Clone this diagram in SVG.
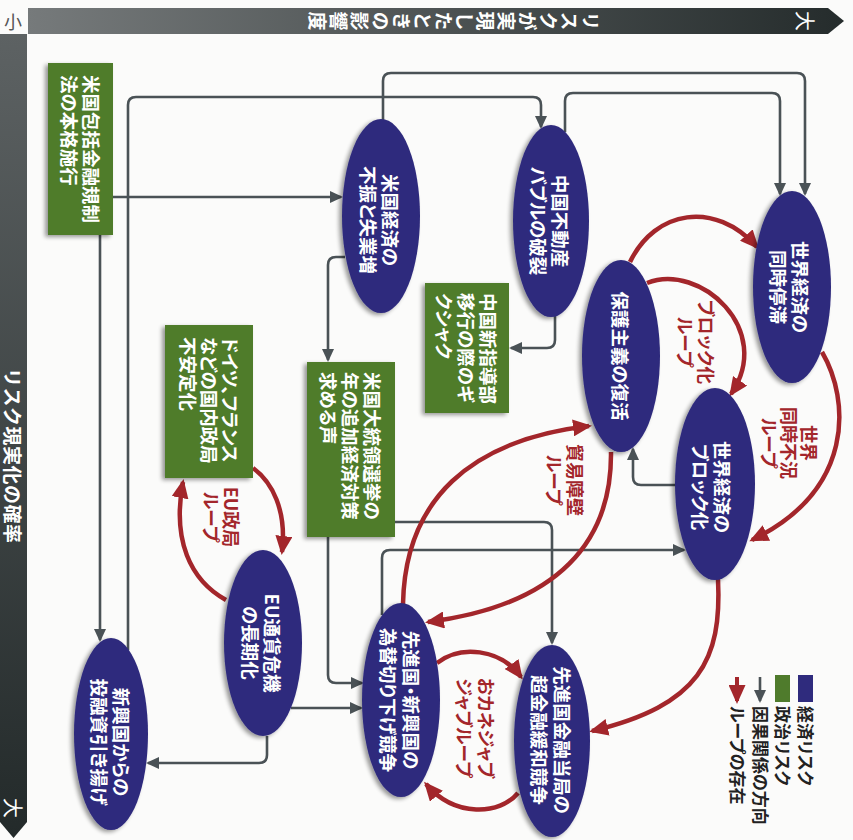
<svg xmlns="http://www.w3.org/2000/svg" width="853" height="840" viewBox="0 0 853 840">
<style>
.t{font-family:"Noto Sans CJK JP","Noto Sans",sans-serif;font-weight:bold;font-feature-settings:"palt" 1;}
.nt{font-size:18.5px;fill:#fff;dominant-baseline:central;}
.mid{text-anchor:middle;}
.st{text-anchor:start;}
.lt{font-size:18px;fill:#a3262b;text-anchor:middle;dominant-baseline:central;}
.lg{font-size:17px;fill:#222;text-anchor:start;dominant-baseline:central;}
.eco{fill:#2f2b7d;filter:url(#sh);}
.pol{fill:#4f7b2c;filter:url(#sh);}
.g{fill:none;stroke:#4a5256;stroke-width:2.6;marker-end:url(#ga);}
.r{fill:none;stroke:#a3262b;stroke-width:4.5;marker-end:url(#ra);}
</style>
<defs>
<linearGradient id="topg" x1="0" y1="0" x2="1" y2="0">
<stop offset="0" stop-color="#767a7b"/><stop offset="1" stop-color="#252c2c"/>
</linearGradient>
<linearGradient id="leftg" x1="0" y1="0" x2="0" y2="1">
<stop offset="0" stop-color="#5d6263"/><stop offset="1" stop-color="#232a2a"/>
</linearGradient>
<filter id="sh" x="-20%" y="-10%" width="140%" height="120%">
<feGaussianBlur in="SourceAlpha" stdDeviation="2"/>
<feOffset dx="-3" dy="2"/>
<feComponentTransfer><feFuncA type="linear" slope="0.4"/></feComponentTransfer>
<feMerge><feMergeNode/><feMergeNode in="SourceGraphic"/></feMerge>
</filter>
<marker id="ga" markerUnits="userSpaceOnUse" markerWidth="13" markerHeight="12" refX="11" refY="6" orient="auto">
<path d="M0,0 L13,6 L0,12 z" fill="#4a5256"/>
</marker>
<marker id="ra" markerUnits="userSpaceOnUse" markerWidth="19" markerHeight="17" refX="16" refY="8.5" orient="auto">
<path d="M0,0 L19,8.5 L0,17 z" fill="#a3262b"/>
</marker>
</defs>

<rect x="0" y="0" width="853" height="840" fill="#fbfbfa"/>

<g id="axes">
<polygon points="28,8 828,8 844,21 828,34 28,34" fill="url(#topg)"/>
<polygon points="0,34 27,34 27,822 13.5,838 0,822" fill="url(#leftg)"/>
<text class="t" x="13" y="21" font-size="18" fill="#555" text-anchor="middle" dominant-baseline="central" style="font-weight:normal">小</text>
<text class="t" transform="translate(600,21) rotate(90)" font-size="19" fill="#fff" letter-spacing="2" style="writing-mode:vertical-rl;font-feature-settings:normal">リスクが実現したときの影響度</text>
<text class="t" transform="translate(805,21) rotate(90)" font-size="20" fill="#fff" text-anchor="middle" dominant-baseline="central" style="font-weight:normal">大</text>
<text class="t" transform="translate(13,368) rotate(90)" font-size="19" fill="#fff" dominant-baseline="central" letter-spacing="0.5" style="font-feature-settings:normal">リスク現実化の確率</text>
<text class="t" transform="translate(13,808) rotate(90)" font-size="20" fill="#fff" text-anchor="middle" dominant-baseline="central" style="font-weight:normal">大</text>
</g>

<g id="connectors">
<path class="g" d="M113,197 H341"/>
<path class="g" d="M100,235 V640"/>
<path class="g" d="M128,650 V105 Q128,97 136,97 H533 Q541,97 541,105 V127"/>
<path class="g" d="M383,120 V81 Q383,73 391,73 H797 Q805,73 805,81 V194"/>
<path class="g" d="M565,132 V101 Q565,93 573,93 H772 Q780,93 780,101 V194"/>
<path class="g" d="M345,257 H336 Q328,257 328,265 V360"/>
<path class="g" d="M555,316 V340 Q555,348 547,348 H511"/>
<path class="g" d="M676,485 H641 Q633,485 633,477 V449"/>
<path class="g" d="M328,537 V675 Q328,683 336,683 H362"/>
<path class="g" d="M291,708 H361"/>
<path class="g" d="M267,736 V755 Q267,763 259,763 H148"/>
<path class="g" d="M395,522 H544 Q552,522 552,530 V643"/>
<path class="g" d="M382,615 V558 Q382,550 390,550 H684"/>

<path class="r" d="M253,468 C272,482 287,510 282,552"/>
<path class="r" d="M226,600 C190,580 172,540 183,482"/>
<path class="r" d="M630,262 C655,210 715,200 757,247"/>
<path class="r" d="M647,283 C700,262 775,330 731,394"/>
<path class="r" d="M822,352 C850,400 855,490 752,540"/>
<path class="r" d="M718,579 C722,660 700,705 592,731"/>
<path class="r" d="M403,604 C405,500 470,440 589,426"/>
<path class="r" d="M611,452 C612,540 560,605 428,622"/>
<path class="r" d="M437,663 C460,645 500,648 521,677"/>
<path class="r" d="M518,793 C500,815 455,818 426,784"/>
</g>

<g id="loop-labels">
<text class="t lt" transform="translate(707,342) rotate(90)"><tspan x="0" y="0">ブロック化</tspan><tspan x="0" y="21">ループ</tspan></text>
<text class="t lt" transform="translate(810,443) rotate(90)"><tspan x="0" y="0">世界</tspan><tspan x="0" y="20">同時不況</tspan><tspan x="0" y="40">ループ</tspan></text>
<text class="t lt" transform="translate(576,480) rotate(90)"><tspan x="0" y="0">貿易障壁</tspan><tspan x="0" y="21">ループ</tspan></text>
<text class="t lt" transform="translate(232,517) rotate(90)"><tspan x="0" y="0">EU政局</tspan><tspan x="0" y="20">ループ</tspan></text>
<text class="t lt" transform="translate(487,728) rotate(90)"><tspan x="0" y="0">おカネジャブ</tspan><tspan x="0" y="22">ジャブループ</tspan></text>
</g>

<g id="n-us-reg">
<rect class="pol" x="48" y="63" width="65" height="172"/>
<text class="t nt st" transform="translate(92,75) rotate(90)"><tspan x="0" y="0">米国包括金融規制</tspan><tspan x="0" y="22">法の本格施行</tspan></text>
</g>
<g id="n-eu-politics">
<rect class="pol" x="165" y="325" width="88" height="153"/>
<text class="t nt st" transform="translate(231,337) rotate(90)"><tspan x="0" y="0">ドイツ、フランス</tspan><tspan x="0" y="21">などの国内政局</tspan><tspan x="0" y="42">不安定化</tspan></text>
</g>
<g id="n-us-election">
<rect class="pol" x="307" y="362" width="88" height="175"/>
<text class="t nt st" transform="translate(373,372) rotate(90)"><tspan x="0" y="0">米国大統領選挙の</tspan><tspan x="0" y="22">年の追加経済対策</tspan><tspan x="0" y="44">求める声</tspan></text>
</g>
<g id="n-china-leader">
<rect class="pol" x="425" y="283" width="84" height="130"/>
<text class="t nt st" transform="translate(489,293) rotate(90)"><tspan x="0" y="0">中国新指導部</tspan><tspan x="0" y="22">移行の際のギ</tspan><tspan x="0" y="44">クシャク</tspan></text>
</g>

<g id="n-us-economy">
<ellipse class="eco" cx="381" cy="216" rx="39" ry="97"/>
<text class="t nt mid" transform="translate(391,220) rotate(90)"><tspan x="0" y="0">米国経済の</tspan><tspan x="0" y="22">不振と失業増</tspan></text>
</g>
<g id="n-china-bubble">
<ellipse class="eco" cx="551" cy="221" rx="38" ry="96"/>
<text class="t nt mid" transform="translate(561,221) rotate(90)"><tspan x="0" y="0">中国不動産</tspan><tspan x="0" y="22">バブルの破裂</tspan></text>
</g>
<g id="n-world-stagnation">
<ellipse class="eco" cx="792" cy="287" rx="39" ry="96"/>
<text class="t nt mid" transform="translate(801,287) rotate(90)"><tspan x="0" y="0">世界経済の</tspan><tspan x="0" y="22">同時停滞</tspan></text>
</g>
<g id="n-protectionism">
<ellipse class="eco" cx="621" cy="356" rx="39" ry="96"/>
<text class="t nt mid" transform="translate(621,356) rotate(90)">保護主義の復活</text>
</g>
<g id="n-world-bloc">
<ellipse class="eco" cx="715" cy="484" rx="40" ry="96"/>
<text class="t nt mid" transform="translate(723,487) rotate(90)"><tspan x="0" y="0">世界経済の</tspan><tspan x="0" y="22">ブロック化</tspan></text>
</g>
<g id="n-eu-crisis">
<ellipse class="eco" cx="263" cy="643" rx="39" ry="93"/>
<text class="t nt mid" transform="translate(273,643) rotate(90)"><tspan x="0" y="0">EU通貨危機</tspan><tspan x="0" y="22">の長期化</tspan></text>
</g>
<g id="n-emerging-outflow">
<ellipse class="eco" cx="111" cy="734" rx="37" ry="96"/>
<text class="t nt mid" transform="translate(122,742) rotate(90)"><tspan x="0" y="0">新興国からの</tspan><tspan x="0" y="22">投融資引き揚げ</tspan></text>
</g>
<g id="n-currency-war">
<ellipse class="eco" cx="401" cy="700" rx="39" ry="97"/>
<text class="t nt mid" transform="translate(412,700) rotate(90)"><tspan x="0" y="0">先進国・新興国の</tspan><tspan x="0" y="23">為替切り下げ競争</tspan></text>
</g>
<g id="n-easing-race">
<ellipse class="eco" cx="552" cy="741" rx="38" ry="96"/>
<text class="t nt mid" transform="translate(563,740) rotate(90)"><tspan x="0" y="0">先進国金融当局の</tspan><tspan x="0" y="23">超金融緩和競争</tspan></text>
</g>

<g id="legend">
<rect x="798" y="675" width="15" height="27" fill="#2f2b7d"/>
<rect x="775" y="675" width="15" height="27" fill="#4f7b2c"/>
<line x1="760" y1="677" x2="760" y2="701" stroke="#4a5256" stroke-width="2.6" marker-end="url(#ga)"/>
<line x1="737" y1="677" x2="737" y2="701" stroke="#a3262b" stroke-width="4" marker-end="url(#ra)"/>
<text class="t lg" transform="translate(806,706) rotate(90)">経済リスク</text>
<text class="t lg" transform="translate(783,706) rotate(90)">政治リスク</text>
<text class="t lg" transform="translate(761,706) rotate(90)">因果関係の方向</text>
<text class="t lg" transform="translate(738,706) rotate(90)">ループの存在</text>
</g>
</svg>
